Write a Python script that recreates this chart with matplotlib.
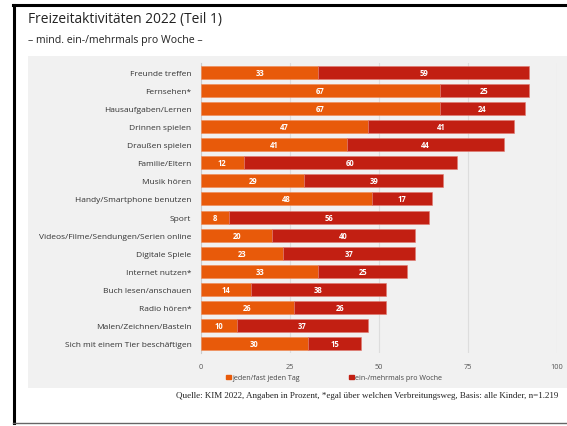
import matplotlib.pyplot as plt
from matplotlib.patches import Rectangle, Patch
from matplotlib.lines import Line2D

# Daten (KIM 2022, Teil 1)
activities = ['Freunde treffen', 'Fernsehen*', 'Hausaufgaben/Lernen', 'Drinnen spielen',
              'Draußen spielen', 'Familie/Eltern', 'Musik hören', 'Handy/Smartphone benutzen',
              'Sport', 'Videos/Filme/Sendungen/Serien online', 'Digitale Spiele',
              'Internet nutzen*', 'Buch lesen/anschauen', 'Radio hören*',
              'Malen/Zeichnen/Basteln', 'Sich mit einem Tier beschäftigen']
daily = [33, 67, 67, 47, 41, 12, 29, 48, 8, 20, 23, 33, 14, 26, 10, 30]
weekly = [59, 25, 24, 41, 44, 60, 39, 17, 56, 40, 37, 25, 38, 26, 37, 15]
series_names = ['jeden/fast jeden Tag', 'ein-/mehrmals pro Woche']
xticks = [0, 25, 50, 75, 100]

ORANGE = '#e85a0a'
RED = '#c21f12'
PANEL = '#f1f1f1'
FONT = ['Open Sans', 'DejaVu Sans']

plt.rcParams['font.family'] = FONT

fig = plt.figure(figsize=(5.67, 4.27), dpi=100)
W, H = 567, 427

# grauer Hintergrund
fig.patches.append(Rectangle((28 / W, 1 - 389 / H), 1, (389 - 57) / H,
                             transform=fig.transFigure, facecolor=PANEL,
                             edgecolor='none', zorder=-5))
# Rahmenlinien
fig.lines.append(Line2D([13 / W, 1], [1 - 5.5 / H, 1 - 5.5 / H], transform=fig.transFigure,
                        color='black', lw=2.2))
fig.lines.append(Line2D([13.5 / W, 13.5 / W], [1 - 5.5 / H, 1 - 424 / H],
                        transform=fig.transFigure, color='black', lw=2.2))
fig.lines.append(Line2D([13 / W, 1], [1 - 424 / H, 1 - 424 / H], transform=fig.transFigure,
                        color='#666666', lw=1))

ax = fig.add_axes([201 / W, 1 - 354 / H, (557 - 201) / W, (354 - 64) / H])
ax.set_zorder(2)
ax.set_facecolor('none')

y = list(range(len(activities)))
ax.barh(y, daily, height=0.72, color=ORANGE, edgecolor='#f08a55', linewidth=0.4, zorder=3)
ax.barh(y, weekly, left=daily, height=0.72, color=RED, edgecolor='#e07a70', linewidth=0.4, zorder=3)

for i in y:
    ax.text(daily[i] / 2, i, str(daily[i]), ha='center', va='center', color='white',
            fontsize=5.5, fontweight='bold', zorder=4)
    ax.text(daily[i] + weekly[i] / 2, i, str(weekly[i]), ha='center', va='center',
            color='white', fontsize=5.5, fontweight='bold', zorder=4)

ax.set_ylim(len(activities) - 0.5, -0.5)
ax.set_xlim(0, 100)
ax.set_yticks(y)
ax.set_yticklabels(activities, fontsize=6.0, color='#333333')
ax.set_xticks(xticks)
ax.set_xticklabels([str(t) for t in xticks], fontsize=5.3, color='#555555')
ax.tick_params(axis='both', length=0)
ax.tick_params(axis='y', pad=7)
ax.tick_params(axis='x', pad=7)
ax.xaxis.grid(True, color='#dddddd', lw=0.8, zorder=0)
for s in ['top', 'right', 'bottom']:
    ax.spines[s].set_visible(False)
ax.spines['left'].set_color('#cccccc')
ax.spines['left'].set_linewidth(0.8)

handles = [Patch(color=ORANGE), Patch(color=RED)]
fig.legend(handles, series_names, loc='center left', bbox_to_anchor=(220 / W, 1 - 379 / H),
           ncol=2, frameon=False, fontsize=5.1, handlelength=0.6, handleheight=0.6,
           handletextpad=0.2, columnspacing=7.0, labelcolor='#444444')

fig.text(28 / W, 1 - 20 / H, 'Freizeitaktivitäten 2022 (Teil 1)', fontsize=9.9,
         va='center', ha='left', color='#222222')
fig.text(28 / W, 1 - 40 / H, '– mind. ein-/mehrmals pro Woche –', fontsize=7.6,
         va='center', ha='left', color='#222222')
fig.text(176 / W, 1 - 396 / H,
         'Quelle: KIM 2022, Angaben in Prozent, *egal über welchen Verbreitungsweg, '
         'Basis: alle Kinder, n=1.219',
         fontsize=6.45, va='center', ha='left', family=['Liberation Serif', 'DejaVu Serif'],
         color='#222222')

fig.savefig('out.png', dpi=100)
